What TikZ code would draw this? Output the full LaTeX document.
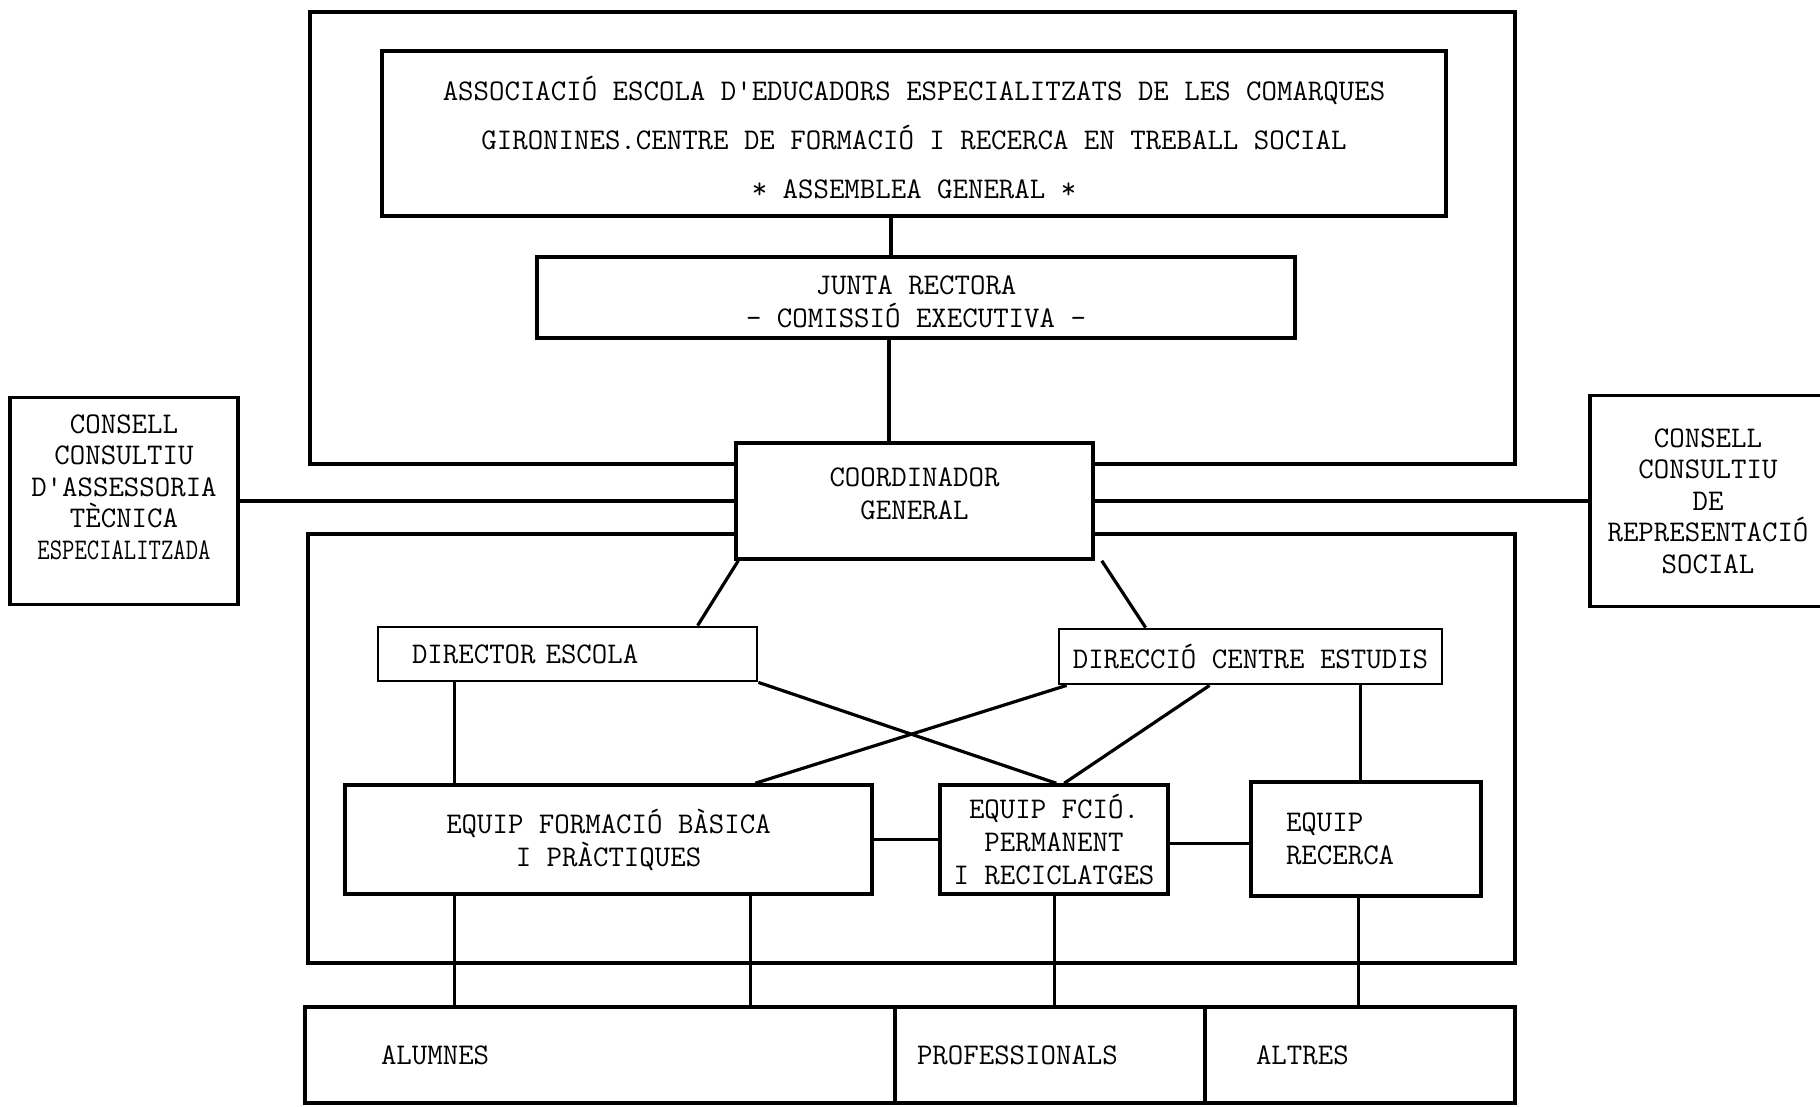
\documentclass[tikz,border=0pt]{standalone}
\tikzset{
  box/.style={draw, fill=white, line width=3.5pt, align=center, inner sep=0pt,
    font=\ttfamily\fontsize{30}{33}\selectfont},
  leftbox/.style={box, align=left},
  frame/.style={draw, line width=4pt},
  link/.style={line width=3.2pt}
}
\begin{document}
\begin{tikzpicture}[x=1pt,y=-1pt]
\useasboundingbox[fill=white] (0,0) rectangle (1820,1107);
% outer frames
\draw[frame] (310,12) rectangle (1515,464);
\draw[frame] (308,534) rectangle (1515,963);

\node[box, minimum width=1064pt, minimum height=165pt, font=\ttfamily\fontsize{30}{49}\selectfont] at (914,133.5) (top)
  {\rule{0pt}{33pt}ASSOCIACIÓ ESCOLA D'EDUCADORS ESPECIALITZATS DE LES COMARQUES\\ GIRONINES.CENTRE DE FORMACIÓ I RECERCA EN TREBALL SOCIAL\\ * ASSEMBLEA GENERAL *};
\node[box, minimum width=758pt, minimum height=81pt] at (916,297.5) (junta) {\rule{0pt}{28pt}JUNTA RECTORA\\ - COMISSIÓ EXECUTIVA -};
\node[box, minimum width=357pt, minimum height=116pt] at (914.5,501) (coord) {COORDINADOR\\ GENERAL\rule[-14pt]{0pt}{14pt}};

\node[box, minimum width=228pt, minimum height=207pt, font=\ttfamily\fontsize{30}{31.5}\selectfont] at (124,501) (consL)
  {CONSELL\\ CONSULTIU\\ D'ASSESSORIA\\ TÈCNICA\\ \scalebox{0.8}[1]{ESPECIALITZADA}\rule[-28pt]{0pt}{28pt}};
\node[box, minimum width=236pt, minimum height=211pt, font=\ttfamily\fontsize{30}{31.5}\selectfont] at (1708,501) (consR)
  {CONSELL\\ CONSULTIU\\ DE\\ REPRESENTACIÓ\\ SOCIAL};

\node[leftbox, line width=2.8pt, text width=311pt, inner xsep=34pt, minimum height=54pt] at (567.5,654) (dir) {\mbox{DIRECTOR ESCOLA}};
\node[box, line width=2.8pt, minimum width=383pt, minimum height=55pt] at (1250.5,656.5) (dce) {DIRECCIÓ CENTRE ESTUDIS};

\node[box, minimum width=527pt, minimum height=109pt] at (608.5,839.5) (fb) {EQUIP FORMACIÓ BÀSICA\\ I PRÀCTIQUES};
\node[box, minimum width=228pt, minimum height=109pt] at (1054,839.5) (efp) {EQUIP FCIÓ.\\ PERMANENT\\ I RECICLATGES};
\node[leftbox, text width=160pt, inner xsep=35pt, minimum height=114pt] at (1366,839) (rec) {EQUIP\\ RECERCA};

\node[leftbox, text width=438pt, inner xsep=76pt, minimum height=96pt] at (600,1055) (alu) {ALUMNES};
\node[leftbox, text width=266pt, inner xsep=22pt, minimum height=96pt] at (1050,1055) (prof) {PROFESSIONALS};
\node[leftbox, text width=208pt, inner xsep=51pt, minimum height=96pt] at (1360,1055) (alt) {ALTRES};

% connectors
\draw[link] ([xshift=-23pt]top.south) -- ([xshift=-23pt]top.south |- junta.north);
\draw[link] ([xshift=-27pt]junta.south) -- ([xshift=-27pt]junta.south |- coord.north);
\draw[link] (consL.east) -- (coord.west);
\draw[link] (coord.east) -- (consR.west);
\draw[link] ([xshift=4pt]coord.south west) -- ([xshift=321pt]dir.north west);
\draw[link] ([xshift=7pt]coord.south east) -- ([xshift=88pt]dce.north west);
\draw[link] ([xshift=78pt]dir.south west) -- ([xshift=78pt]dir.south west |- fb.north);
\draw[link] (dir.south east) -- ([xshift=118pt]efp.north west);
\draw[link] ([xshift=9pt]dce.south west) -- ([xshift=412pt]fb.north west);
\draw[link] ([xshift=152pt]dce.south west) -- ([xshift=126pt]efp.north west);
\draw[link] ([xshift=303pt]dce.south west) -- ([xshift=303pt]dce.south west |- rec.north);
\draw[link] (fb.east) -- (efp.west);
\draw[link] ([yshift=-4pt]efp.east) -- ([yshift=-4pt]efp.east -| rec.west);
\draw[link] ([xshift=111pt]fb.south west) -- ([xshift=111pt]fb.south west |- alu.north);
\draw[link] ([xshift=407pt]fb.south west) -- ([xshift=407pt]fb.south west |- alu.north);
\draw[link] ([xshift=116pt]efp.south west) -- ([xshift=116pt]efp.south west |- prof.north);
\draw[link] ([xshift=109pt]rec.south west) -- ([xshift=109pt]rec.south west |- alt.north);
\end{tikzpicture}
\end{document}
